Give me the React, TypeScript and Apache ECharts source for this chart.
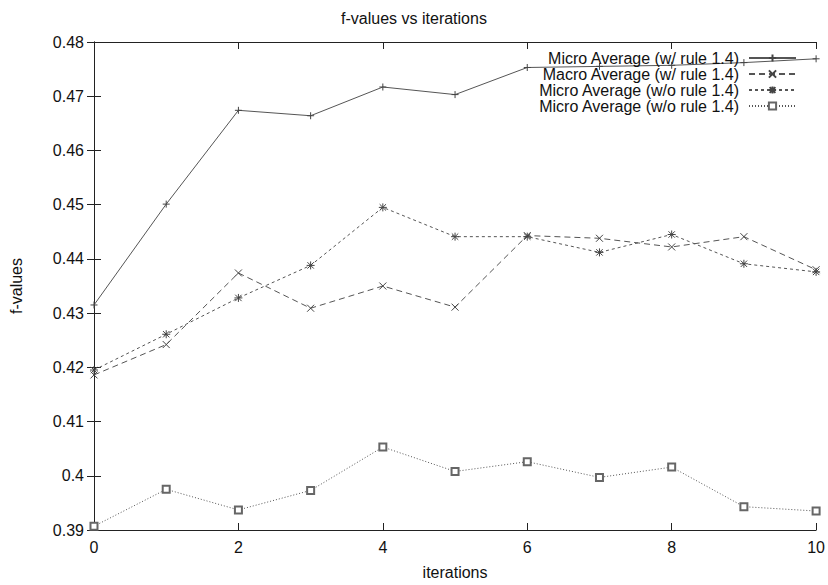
import React, { useEffect, useRef } from "react";
import * as echarts from "echarts";

const iterations = [0, 1, 2, 3, 4, 5, 6, 7, 8, 9, 10];
const microWithRule = [0.4315, 0.4501, 0.4674, 0.4664, 0.4717, 0.4703, 0.4753, 0.4755, 0.4757, 0.4762, 0.4769];
const macroWithRule = [0.4186, 0.4242, 0.4374, 0.4309, 0.435, 0.4311, 0.4443, 0.4438, 0.4422, 0.4441, 0.438];
const microWithoutRule = [0.4195, 0.4261, 0.4328, 0.4388, 0.4495, 0.4441, 0.4441, 0.4412, 0.4445, 0.4391, 0.4376];
const microWithoutRule2 = [0.3907, 0.3975, 0.3937, 0.3973, 0.4053, 0.4008, 0.4026, 0.3997, 0.4016, 0.3943, 0.3935];

const seriesNames = [
  "Micro Average (w/ rule 1.4)",
  "Macro Average (w/ rule 1.4)",
  "Micro Average (w/o rule 1.4)",
  "Micro Average (w/o rule 1.4)",
];
const xTicks = { min: 0, max: 10, interval: 2 };
const yTicks = { min: 0.39, max: 0.48, interval: 0.01 };

const FONT = "Liberation Sans, Arial, Helvetica, sans-serif";
const INK = "#222";

const PLUS = "path://M5,0L5,10M0,5L10,5";
const CROSS = "path://M0,0L10,10M10,0L0,10";
const STAR = "path://M5,0L5,10M0,5L10,5M1,1L9,9M9,1L1,9";

export default function App() {
  const ref = useRef<HTMLDivElement>(null);
  useEffect(() => {
    if (!ref.current) return;
    const chart = echarts.init(ref.current, null, { renderer: "svg" });
    const pairs = (ys: number[]) => iterations.map((x, i) => [x, ys[i]]);
    const mk = (
      idx: number,
      name: string,
      data: number[],
      symbol: string,
      size: number,
      type: any
    ) => ({
      type: "line",
      name,
      data: pairs(data),
      symbol,
      symbolSize: size,
      showSymbol: true,
      xAxisIndex: 0,
      yAxisIndex: 0,
      lineStyle: { color: "#555", width: 1, type },
      itemStyle: { color: idx === 3 ? "#666" : "none", borderColor: idx === 3 ? "#666" : "#444", borderWidth: 1 },
      z: 3,
    });
    const series = [
      mk(0, seriesNames[0], microWithRule, PLUS, 7, "solid"),
      mk(1, seriesNames[1], macroWithRule, CROSS, 7, [6, 4]),
      mk(2, seriesNames[2], microWithoutRule, STAR, 8, [3, 3]),
      mk(3, seriesNames[3] + " ", microWithoutRule2, "emptyRect", 7, [1, 2]),
    ];
    const legendTops = [50, 66, 82, 98];
    const legends = series.map((s, i) => ({
      data: [s.name],
      orient: "vertical",
      right: 31,
      top: legendTops[i],
      align: "right",
      padding: 0,
      itemWidth: 47,
      itemHeight: 9,
      selectedMode: false,
      formatter: () => seriesNames[i],
      textStyle: { fontFamily: FONT, fontSize: 16, color: "#111", padding: [0, 5, 0, 0] },
    }));
    const axisCommon = {
      axisLine: { show: true, lineStyle: { color: INK, width: 1 } },
      axisTick: { show: true, inside: true, length: 7, lineStyle: { color: INK } },
      splitLine: { show: false },
    };
    const fmt = (v: number) => String(+v.toFixed(2));
    chart.setOption({
      animation: false,
      backgroundColor: "#fff",
      title: {
        text: "f-values vs iterations",
        left: "center",
        top: 10,
        padding: 0,
        textStyle: { fontFamily: FONT, fontSize: 16, fontWeight: "normal", color: "#111" },
      },
      grid: { left: 93, right: 10, top: 42, bottom: 49, containLabel: false },
      legend: legends,
      xAxis: [
        {
          type: "value",
          position: "bottom",
          ...xTicks,
          ...axisCommon,
          name: "iterations",
          nameLocation: "middle",
          nameGap: 34,
          nameTextStyle: { fontFamily: FONT, fontSize: 16, color: "#111" },
          axisLabel: { fontFamily: FONT, fontSize: 16, color: "#111", margin: 9 },
        },
        {
          type: "value",
          position: "top",
          ...xTicks,
          ...axisCommon,
          axisLabel: { show: false },
        },
      ],
      yAxis: [
        {
          type: "value",
          position: "left",
          ...yTicks,
          ...axisCommon,
          name: "f-values",
          nameLocation: "middle",
          nameRotate: 90,
          nameGap: 70,
          nameTextStyle: { fontFamily: FONT, fontSize: 16, color: "#111" },
          axisLabel: { fontFamily: FONT, fontSize: 16, color: "#111", margin: 10, formatter: fmt },
        },
        {
          type: "value",
          position: "right",
          ...yTicks,
          ...axisCommon,
          axisLabel: { show: false },
        },
      ],
      series,
    });
    return () => chart.dispose();
  }, []);
  return <div ref={ref} style={{ width: 828, height: 585, position: "absolute", left: 0, top: 0 }} />;
}
